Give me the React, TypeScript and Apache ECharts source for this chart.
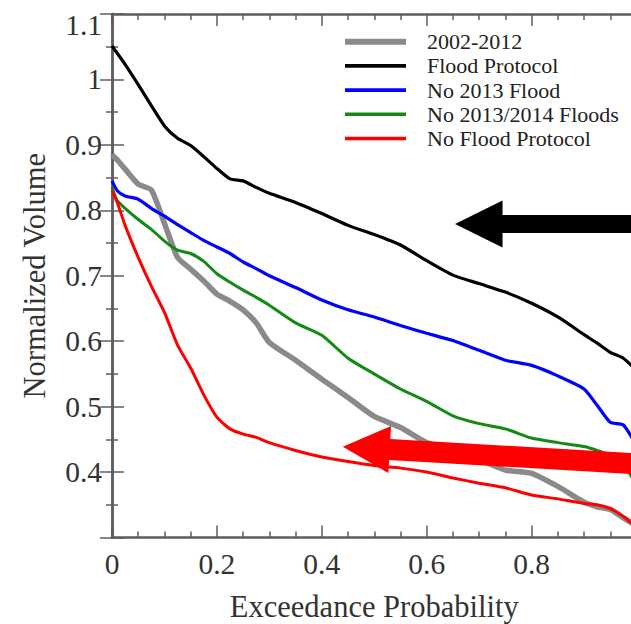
import React, { useEffect, useRef } from 'react';
import * as echarts from 'echarts';

const FONT = 'Liberation Serif, Times New Roman, serif';

const probability = [0, 0.01, 0.025, 0.05, 0.075, 0.1, 0.125, 0.15, 0.175, 0.2, 0.225, 0.25, 0.275, 0.3, 0.35, 0.4, 0.45, 0.5, 0.55, 0.6, 0.65, 0.7, 0.75, 0.8, 0.85, 0.9, 0.925, 0.95, 0.975, 1.0];

const vol2002to2012 = [0.885, 0.877, 0.863, 0.840, 0.831, 0.78, 0.728, 0.71, 0.692, 0.672, 0.661, 0.648, 0.628, 0.598, 0.571, 0.542, 0.514, 0.485, 0.468, 0.445, 0.434, 0.419, 0.403, 0.398, 0.378, 0.354, 0.347, 0.343, 0.330, 0.318];
const volFloodProtocol = [1.051, 1.040, 1.023, 0.992, 0.960, 0.929, 0.910, 0.899, 0.882, 0.864, 0.848, 0.845, 0.835, 0.826, 0.812, 0.795, 0.777, 0.763, 0.747, 0.723, 0.701, 0.688, 0.675, 0.658, 0.637, 0.610, 0.597, 0.583, 0.574, 0.555];
const volNo2013Flood = [0.845, 0.830, 0.822, 0.817, 0.803, 0.791, 0.778, 0.766, 0.754, 0.744, 0.734, 0.721, 0.711, 0.700, 0.682, 0.663, 0.648, 0.637, 0.624, 0.612, 0.601, 0.586, 0.571, 0.563, 0.547, 0.527, 0.502, 0.476, 0.472, 0.44];
const volNo2013and2014Floods = [0.835, 0.815, 0.803, 0.786, 0.771, 0.753, 0.739, 0.734, 0.722, 0.703, 0.690, 0.678, 0.667, 0.655, 0.628, 0.609, 0.574, 0.550, 0.527, 0.508, 0.486, 0.474, 0.466, 0.452, 0.445, 0.439, 0.433, 0.425, 0.412, 0.38];
const volNoFloodProtocol = [0.830, 0.812, 0.777, 0.728, 0.684, 0.644, 0.594, 0.559, 0.518, 0.484, 0.466, 0.458, 0.453, 0.445, 0.433, 0.423, 0.416, 0.410, 0.406, 0.400, 0.391, 0.383, 0.376, 0.365, 0.359, 0.352, 0.350, 0.344, 0.332, 0.315];

const seriesNames = ['2002-2012', 'Flood Protocol', 'No 2013 Flood', 'No 2013/2014 Floods', 'No Flood Protocol'];
const seriesValues = [vol2002to2012, volFloodProtocol, volNo2013Flood, volNo2013and2014Floods, volNoFloodProtocol];
const seriesColors = ['#8a8a8a', '#000000', '#0000ff', '#138a13', '#ff0000'];
const seriesWidths = [5.5, 3.2, 3.2, 3, 3];

// annotation arrows, in data coordinates (tip, tail)
const arrowBlackTip = [0.654, 0.779];
const arrowBlackTail = [1.02, 0.779];
const arrowRedTip = [0.44, 0.4386];
const arrowRedTail = [1.016, 0.412];

const AXIS_COLOR = '#5e5e5e';
const LABEL_COLOR = '#333333';

export default function App() {
  const ref = useRef<HTMLDivElement>(null);
  useEffect(() => {
    const chart = echarts.init(ref.current as HTMLDivElement, null, { renderer: 'svg' });
    const tickCommon = {
      axisLine: { show: true, lineStyle: { color: AXIS_COLOR, width: 2.5 } },
      axisTick: { show: true, inside: true, length: 12, lineStyle: { color: AXIS_COLOR, width: 1.5 } },
      minorTick: { show: true, length: 6, lineStyle: { color: AXIS_COLOR, width: 1.5 } },
      splitLine: { show: false },
      minorSplitLine: { show: false },
    };
    chart.setOption({
      animation: false,
      backgroundColor: '#ffffff',
      grid: { left: 112, top: 14, width: 524.5, height: 523.5, outerBoundsMode: 'none', containLabel: false },
      legend: {
        left: 342,
        top: 30.7,
        orient: 'vertical',
        padding: 0,
        itemWidth: 61,
        itemHeight: 14,
        itemGap: 2.2,
        selectedMode: false,
        itemStyle: { opacity: 0 },
        data: seriesNames.map((name, i) => ({
          name,
          lineStyle: { color: seriesColors[i], width: seriesWidths[i] + 0.5, opacity: 1 },
        })),
        textStyle: { fontFamily: FONT, fontSize: 22, color: '#222222', lineHeight: 22, padding: [0, 0, 0, 16] },
      },
      xAxis: [
        {
          type: 'value', min: 0, max: 1, interval: 0.2, position: 'bottom',
          ...tickCommon,
          minorTick: { ...tickCommon.minorTick, splitNumber: 4 },
          axisLabel: { margin: 11.5, fontFamily: FONT, fontSize: 29.5, color: LABEL_COLOR },
          name: 'Exceedance Probability', nameLocation: 'middle', nameGap: 54,
          nameTextStyle: { fontFamily: FONT, fontSize: 30.5, color: LABEL_COLOR },
        },
        {
          type: 'value', min: 0, max: 1, interval: 0.2, position: 'top',
          ...tickCommon,
          minorTick: { ...tickCommon.minorTick, splitNumber: 4 },
          axisLabel: { show: false },
        },
      ],
      yAxis: [
        {
          type: 'value', min: 0.3, max: 1.1, interval: 0.1, position: 'left',
          ...tickCommon,
          minorTick: { ...tickCommon.minorTick, splitNumber: 2 },
          axisLabel: {
            margin: 10, fontFamily: FONT, fontSize: 29.5, color: LABEL_COLOR,
            formatter: (v: number) => {
              if (v < 0.35) return '';
              if (v > 1.05) return '{top|1.1}';
              return String(+v.toFixed(1));
            },
            rich: { top: { fontFamily: FONT, fontSize: 29.5, color: LABEL_COLOR, padding: [22, 0, 0, 0] } },
          },
          name: 'Normalized Volume', nameLocation: 'middle', nameGap: 62,
          nameTextStyle: { fontFamily: FONT, fontSize: 30.5, color: LABEL_COLOR },
        },
        {
          type: 'value', min: 0.3, max: 1.1, interval: 0.1, position: 'right',
          ...tickCommon,
          minorTick: { ...tickCommon.minorTick, splitNumber: 2 },
          axisLabel: { show: false },
        },
      ],
      series: seriesNames.map((name, i) => ({
        name,
        type: 'line',
        xAxisIndex: 0,
        yAxisIndex: 0,
        symbol: 'none',
        smooth: 0.2,
        color: seriesColors[i],
        lineStyle: { color: seriesColors[i], width: seriesWidths[i] },
        data: probability.map((p, j) => [p, seriesValues[i][j]]),
        z: 2 + i,
      })),
    });

    const toPx = (p: number[]) => chart.convertToPixel({ gridIndex: 0 }, p) as number[];
    const arrow = (tipD: number[], tailD: number[], headLen: number, headHalf: number, shaftHalf: number) => {
      const tip = toPx(tipD);
      const tail = toPx(tailD);
      const dx = tail[0] - tip[0];
      const dy = tail[1] - tip[1];
      const len = Math.hypot(dx, dy);
      const ux = dx / len, uy = dy / len;
      const nx = -uy, ny = ux;
      const bx = tip[0] + ux * headLen, by = tip[1] + uy * headLen;
      return [
        [tip[0], tip[1]],
        [bx + nx * headHalf, by + ny * headHalf],
        [bx + nx * shaftHalf, by + ny * shaftHalf],
        [tail[0] + nx * shaftHalf, tail[1] + ny * shaftHalf],
        [tail[0] - nx * shaftHalf, tail[1] - ny * shaftHalf],
        [bx - nx * shaftHalf, by - ny * shaftHalf],
        [bx - nx * headHalf, by - ny * headHalf],
      ];
    };
    chart.setOption({
      graphic: [
        { type: 'polygon', z: 100, shape: { points: arrow(arrowBlackTip, arrowBlackTail, 47.5, 23.5, 9) }, style: { fill: '#000000' } },
        { type: 'polygon', z: 100, shape: { points: arrow(arrowRedTip, arrowRedTail, 47, 23.5, 10.5) }, style: { fill: '#ff0000' } },
      ],
    });
    return () => chart.dispose();
  }, []);
  return <div ref={ref} style={{ position: 'fixed', left: 0, top: 0, width: 631, height: 624, background: '#fff' }} />;
}
